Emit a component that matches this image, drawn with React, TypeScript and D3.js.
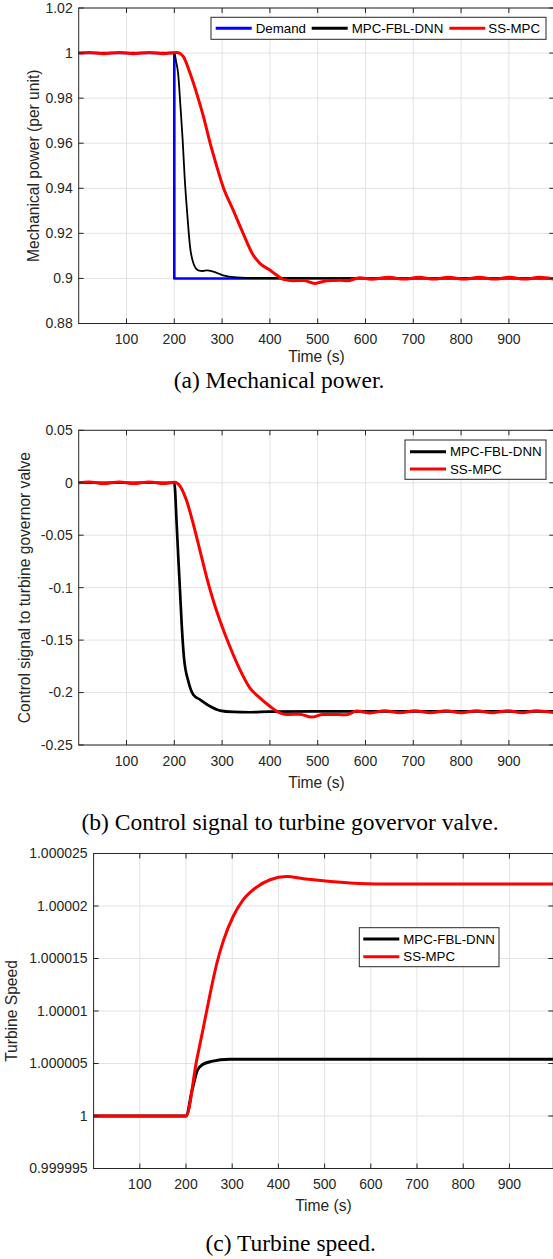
import React from "react";
import * as d3 from "d3";

// ---------- DATA ----------
const xTicks = [100, 200, 300, 400, 500, 600, 700, 800, 900];
const xLabels = ["100", "200", "300", "400", "500", "600", "700", "800", "900"];

// Panel (a): Mechanical power
const aYTicks = [0.88, 0.9, 0.92, 0.94, 0.96, 0.98, 1.0, 1.02];
const aYLabels = ["0.88", "0.9", "0.92", "0.94", "0.96", "0.98", "1", "1.02"];
const aDemand: [number, number][] = [[0, 1.0], [200, 1.0], [200, 0.9], [995, 0.9]];
const aFbl: [number, number][] = [
  [0, 1.0], [100, 1.0], [200, 1.0], [204, 0.996], [208, 0.991], [213, 0.976], [217.5, 0.9614],
  [222, 0.9437], [227, 0.929], [233, 0.914], [240, 0.9067], [250, 0.9036], [260, 0.9033],
  [268, 0.9036], [282, 0.903], [302, 0.9014], [330, 0.9005], [370, 0.9002], [450, 0.9002],
  [600, 0.9001], [995, 0.9001],
];
const aSs: [number, number][] = [
  [0, 1.0], [22, 1.0003], [52, 0.9997], [85, 1.0003], [114, 0.9997], [148, 1.0003], [177, 0.9997],
  [205, 1.0003], [212, 0.9998], [219, 0.9984], [233, 0.991], [247, 0.982], [261, 0.9718],
  [275, 0.96], [289, 0.9496], [302, 0.9407], [323, 0.9304], [344, 0.92], [365, 0.9104],
  [379, 0.9067], [400, 0.9037], [414, 0.9015], [428, 0.8996], [449, 0.899], [470, 0.8991],
  [494, 0.8978], [519, 0.899], [547, 0.8992], [562, 0.899], [588, 0.9003], [612, 0.8996],
  [649, 0.9005], [680, 0.8997], [712, 0.9005], [743, 0.8997], [774, 0.9005], [806, 0.8997],
  [838, 0.9005], [870, 0.8997], [901, 0.9005], [933, 0.8997], [964, 0.9005], [995, 0.8997],
];

// Panel (b): Control signal
const bYTicks = [-0.25, -0.2, -0.15, -0.1, -0.05, 0, 0.05];
const bYLabels = ["-0.25", "-0.2", "-0.15", "-0.1", "-0.05", "0", "0.05"];
const bFbl: [number, number][] = [
  [0, 0], [200, 0], [205, -0.0398], [208.4, -0.0716], [212, -0.1034], [215.5, -0.1352],
  [220.3, -0.167], [229.4, -0.1893], [239.8, -0.202], [253.8, -0.2067], [274.7, -0.2131],
  [295.6, -0.2172], [323, -0.2185], [358, -0.2188], [400, -0.2182], [500, -0.218], [995, -0.218],
];
const bSs: [number, number][] = [
  [0, 0], [22, 0.0008], [52, -0.0008], [85, 0.0008], [114, -0.0008], [148, 0.0008], [177, -0.0008],
  [201, 0.0005], [212, -0.0032], [226, -0.0175], [240, -0.0398], [254, -0.0652], [268, -0.0906],
  [282, -0.113], [296, -0.132], [316, -0.1559], [337, -0.178], [358, -0.1956], [379, -0.2051],
  [400, -0.2131], [421, -0.2194], [435, -0.221], [462, -0.2206], [487, -0.2234], [511, -0.221],
  [544, -0.221], [560, -0.2212], [581, -0.2177], [610, -0.2194], [640, -0.2174], [672, -0.2193],
  [703, -0.2174], [736, -0.2193], [769, -0.2174], [800, -0.2193], [832, -0.2174], [865, -0.2193],
  [898, -0.2174], [928, -0.2193], [957, -0.2174], [995, -0.2192],
];

// Panel (c): Turbine speed
const cYTicks = [0.999995, 1.0, 1.000005, 1.00001, 1.000015, 1.00002, 1.000025];
const cYLabels = ["0.999995", "1", "1.000005", "1.00001", "1.000015", "1.00002", "1.000025"];
const cFbl: [number, number][] = [
  [0, 1], [200, 1], [213.4, 1.0000025], [225, 1.0000044], [236, 1.0000049], [255, 1.0000052],
  [294, 1.0000054], [330, 1.0000054], [995, 1.0000054],
];
const cSs: [number, number][] = [
  [0, 1], [200, 1], [223, 1.0000053], [237.5, 1.0000084], [252, 1.0000116], [266.5, 1.0000145],
  [281, 1.0000167], [302, 1.000019], [324, 1.0000206], [353, 1.0000218], [382, 1.0000225],
  [418, 1.0000228], [454, 1.0000226], [497, 1.0000224], [555, 1.0000222], [627, 1.0000221],
  [995, 1.0000221],
];

const seriesNames = ["Demand", "MPC-FBL-DNN", "SS-MPC"];
const captions = ["(a) Mechanical power.", "(b) Control signal to turbine govervor valve.", "(c) Turbine speed."];
const yTitles = ["Mechanical power (per unit)", "Control signal to turbine governor valve", "Turbine Speed"];

// ---------- STYLE ----------
const AX = "#262626";
const GRID = "#e3e3e3";
const SANS = "'Liberation Sans', Arial, Helvetica, sans-serif";
const SERIF = "'Liberation Serif', 'Times New Roman', serif";

type Series = { data: [number, number][]; color: string; width: number; curve: any };
type LegendEntry = { name: string; color: string; lx: number; ly: number; tx: number };

function Panel(props: {
  left: number; right: number; top: number; bottom: number;
  yDomain: [number, number]; yTicks: number[]; yLabels: string[];
  yTitle: string; yTitleX: number; xTitleOffset: number; caption: string; captionX: number; captionY: number;
  series: Series[]; legendBox: [number, number, number, number]; legend: LegendEntry[];
}) {
  const { left, right, top, bottom } = props;
  const x = d3.scaleLinear().domain([0, 995]).range([left, right]);
  const y = d3.scaleLinear().domain(props.yDomain).range([bottom, top]);
  const tl = 5;
  const [bx0, by0, bx1, by1] = props.legendBox;
  const clipId = "clip" + Math.round(top);
  return (
    <g>
      <defs>
        <clipPath id={clipId}>
          <rect x={left} y={top - 2} width={right - left} height={bottom - top + 4} />
        </clipPath>
      </defs>
      <rect x={left} y={top} width={right - left} height={bottom - top} fill="#fff" />
      {xTicks.map((t) => (
        <line key={"gx" + t} x1={x(t)} x2={x(t)} y1={top} y2={bottom} stroke={GRID} strokeWidth={1} />
      ))}
      {props.yTicks.map((t, i) => (
        <line key={"gy" + i} x1={left} x2={right} y1={y(t)} y2={y(t)} stroke={GRID} strokeWidth={1} />
      ))}
      <g clipPath={`url(#${clipId})`}>
        {props.series.map((s, i) => {
          const line = d3.line<[number, number]>().x((d) => x(d[0])).y((d) => y(d[1])).curve(s.curve);
          return (
            <path key={"s" + i} d={line(s.data) || ""} fill="none" stroke={s.color} strokeWidth={s.width}
              strokeLinejoin="round" strokeLinecap="round" />
          );
        })}
      </g>
      <rect x={left} y={top} width={right - left} height={bottom - top} fill="none" stroke={AX} strokeWidth={1} />
      {xTicks.map((t) => (
        <g key={"tx" + t}>
          <line x1={x(t)} x2={x(t)} y1={bottom} y2={bottom - tl} stroke={AX} strokeWidth={1} />
          <line x1={x(t)} x2={x(t)} y1={top} y2={top + tl} stroke={AX} strokeWidth={1} />
        </g>
      ))}
      {props.yTicks.map((t, i) => (
        <g key={"ty" + i}>
          <line x1={left} x2={left + tl} y1={y(t)} y2={y(t)} stroke={AX} strokeWidth={1} />
          <line x1={right} x2={right - tl} y1={y(t)} y2={y(t)} stroke={AX} strokeWidth={1} />
        </g>
      ))}
      {xTicks.map((t, i) => (
        <text key={"lx" + t} x={x(t)} y={bottom + 20.5} textAnchor="middle" fontSize={14} fill={AX} fontFamily={SANS}>
          {xLabels[i]}
        </text>
      ))}
      {props.yTicks.map((t, i) => (
        <text key={"ly" + i} x={left - 6} y={y(t)} dy="0.35em" textAnchor="end" fontSize={14} fill={AX} fontFamily={SANS}>
          {props.yLabels[i]}
        </text>
      ))}
      <text x={(left + right) / 2} y={bottom + props.xTitleOffset} dy="0.35em" textAnchor="middle" fontSize={15.6} fill={AX} fontFamily={SANS}>
        Time (s)
      </text>
      <text transform={`translate(${props.yTitleX},${(top + bottom) / 2}) rotate(-90)`} dy="0.35em" textAnchor="middle"
        fontSize={15.6} fill={AX} fontFamily={SANS}>
        {props.yTitle}
      </text>
      <rect x={bx0} y={by0} width={bx1 - bx0} height={by1 - by0} fill="#fff" stroke={AX} strokeWidth={1} />
      {props.legend.map((e, i) => (
        <g key={"lg" + i}>
          <line x1={e.lx} x2={e.lx + 36} y1={e.ly} y2={e.ly} stroke={e.color} strokeWidth={3} />
          <text x={e.tx} y={e.ly} dy="0.36em" fontSize={13.3} fill="#000" fontFamily={SANS}>{e.name}</text>
        </g>
      ))}
      <text x={props.captionX} y={props.captionY} textAnchor="middle" fontSize={23.5} fill="#000" fontFamily={SERIF}>
        {props.caption}
      </text>
    </g>
  );
}

export default function App() {
  const mono = d3.curveMonotoneX;
  const lin = d3.curveLinear;
  return (
    <div style={{ position: "absolute", left: 0, top: 0 }}>
      <svg width={553} height={1259} style={{ display: "block", background: "#fff" }}>
        <rect x={0} y={0} width={553} height={1259} fill="#fff" />
        <Panel left={78.7} right={554.3} top={8} bottom={323.5}
          yDomain={[0.88, 1.02]} yTicks={aYTicks} yLabels={aYLabels}
          yTitle={yTitles[0]} yTitleX={33.5} xTitleOffset={33} caption={captions[0]} captionX={279} captionY={387.5}
          series={[
            { data: aDemand, color: "#0000ff", width: 2.6, curve: lin },
            { data: aFbl, color: "#000000", width: 1.8, curve: mono },
            { data: aSs, color: "#ff0000", width: 3, curve: mono },
          ]}
          legendBox={[211, 17.3, 546, 39.3]}
          legend={[
            { name: seriesNames[0], color: "#0000ff", lx: 215.7, ly: 28.3, tx: 255.7 },
            { name: seriesNames[1], color: "#000000", lx: 311.7, ly: 28.3, tx: 351.7 },
            { name: seriesNames[2], color: "#ff0000", lx: 449.3, ly: 28.3, tx: 488.3 },
          ]}
        />
        <Panel left={78.7} right={554.3} top={430.3} bottom={745}
          yDomain={[-0.25, 0.05]} yTicks={bYTicks} yLabels={bYLabels}
          yTitle={yTitles[1]} yTitleX={24.5} xTitleOffset={38} caption={captions[1]} captionX={290} captionY={829.5}
          series={[
            { data: bFbl, color: "#000000", width: 2.7, curve: mono },
            { data: bSs, color: "#ff0000", width: 3, curve: mono },
          ]}
          legendBox={[405, 440, 546, 479.3]}
          legend={[
            { name: seriesNames[1], color: "#000000", lx: 410, ly: 451.7, tx: 450 },
            { name: seriesNames[2], color: "#ff0000", lx: 410, ly: 469, tx: 450 },
          ]}
        />
        <Panel left={93.6} right={553.3} top={853.5} bottom={1168.5}
          yDomain={[0.999995, 1.000025]} yTicks={cYTicks} yLabels={cYLabels}
          yTitle={yTitles[2]} yTitleX={12} xTitleOffset={37.2} caption={captions[2]} captionX={290.6} captionY={1250.5}
          series={[
            { data: cFbl, color: "#000000", width: 3, curve: mono },
            { data: cSs, color: "#ff0000", width: 3, curve: mono },
          ]}
          legendBox={[359.3, 927.7, 499, 966.7]}
          legend={[
            { name: seriesNames[1], color: "#000000", lx: 363.3, ly: 939, tx: 403.3 },
            { name: seriesNames[2], color: "#ff0000", lx: 363.3, ly: 956.7, tx: 403.3 },
          ]}
        />
      </svg>
    </div>
  );
}
